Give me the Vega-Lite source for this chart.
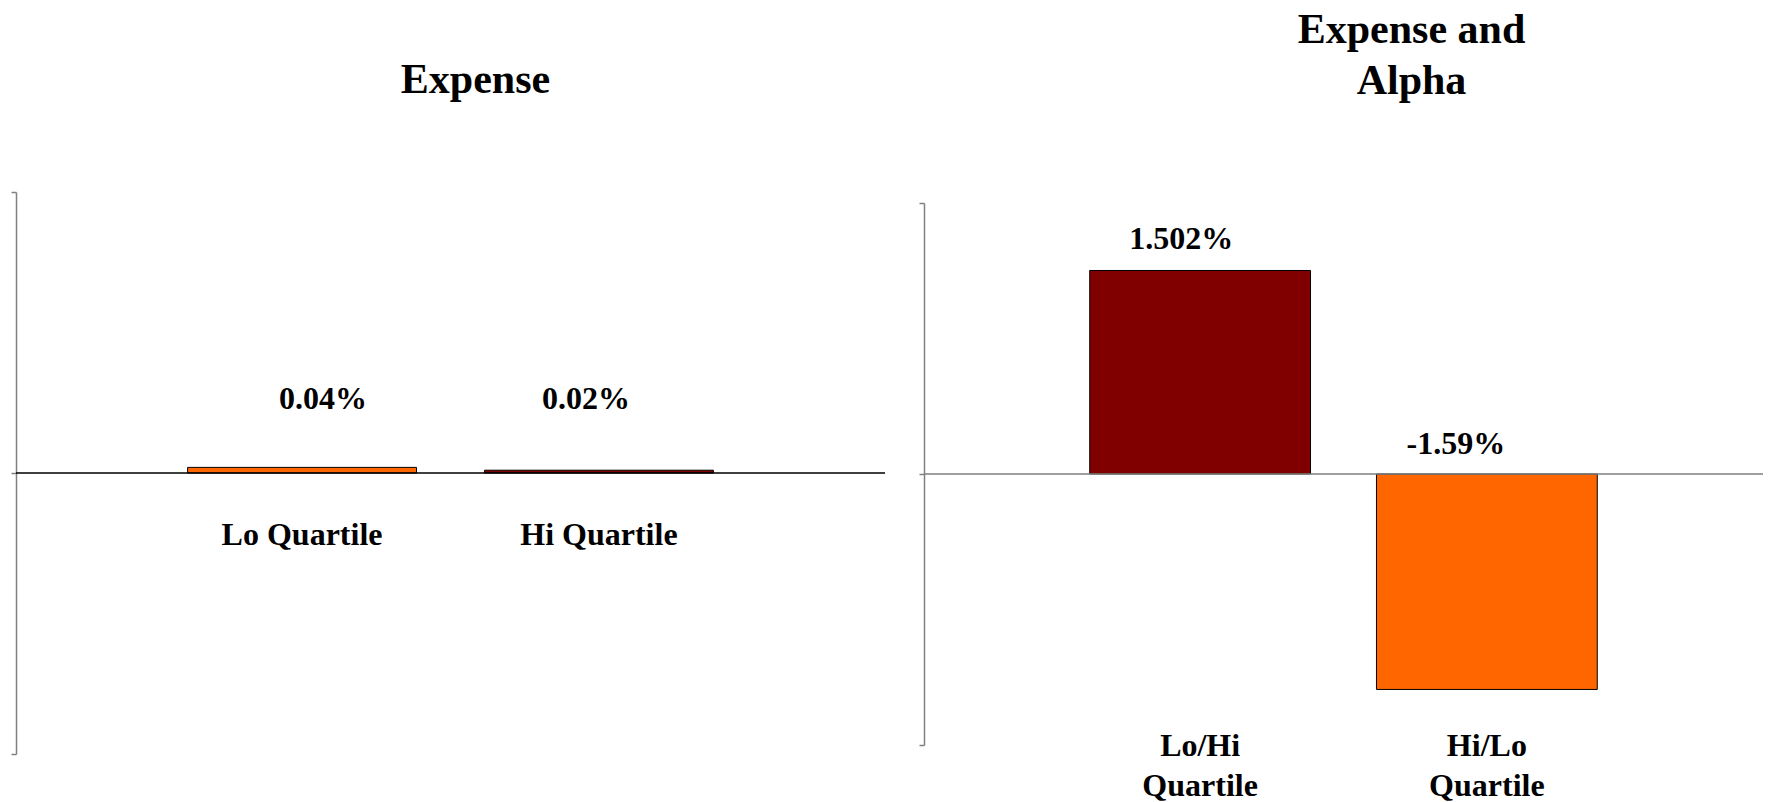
{
  "$schema": "https://vega.github.io/schema/vega-lite/v6.json",
  "background": "white",
  "padding": {"left": 10, "top": 9, "right": 5, "bottom": 0},
  "config": {
    "view": {"stroke": null},
    "font": "Liberation Serif",
    "title": {"font": "Liberation Serif", "fontSize": 42, "fontWeight": "bold", "color": "black"},
    "axis": {"labelFont": "Liberation Serif", "labelFontSize": 32, "labelFontWeight": "bold", "labelColor": "black"}
  },
  "spacing": 32,
  "resolve": {"scale": {"color": "independent"}},
  "hconcat": [
    {
      "width": 869,
      "height": 562,
      "title": {"text": "Expense", "dx": 25, "offset": 89},
      "data": {"values": [
        {"cat": "Lo Quartile", "value": 0.04, "label": "0.04%"},
        {"cat": "Hi Quartile", "value": 0.02, "label": "0.02%"}
      ]},
      "layer": [
        {
          "mark": {"type": "bar", "stroke": "black", "strokeWidth": 1},
          "encoding": {
            "x": {"field": "cat", "type": "nominal", "sort": null,
              "scale": {"paddingInner": 0.229, "paddingOuter": 0.578},
              "axis": {"title": null, "domain": false, "ticks": false, "labelAngle": 0, "labelPadding": -220, "labelBaseline": "middle", "labelLimit": 400}},
            "y": {"field": "value", "type": "quantitative", "scale": {"domain": [-2, 2], "nice": false, "zero": true},
              "axis": {"values": [-2, 0, 2], "labels": false, "title": null, "grid": false, "domainColor": "#808080", "tickColor": "#808080", "tickSize": 5, "domainWidth": 1.5, "tickWidth": 1.5}},
            "color": {"field": "cat", "type": "nominal", "scale": {"domain": ["Lo Quartile", "Hi Quartile"], "range": ["#FF6600", "#800000"]}, "legend": null}
          }
        },
        {
          "mark": {"type": "rule", "color": "black", "strokeWidth": 1.2},
          "encoding": {"y": {"datum": 0}}
        },
        {
          "transform": [{"filter": "datum.cat == 'Lo Quartile'"}],
          "mark": {"type": "text", "font": "Liberation Serif", "fontSize": 32, "fontWeight": "bold", "color": "black", "dx": 21, "dy": -68, "baseline": "middle"},
          "encoding": {"x": {"field": "cat", "type": "nominal", "sort": null}, "y": {"field": "value", "type": "quantitative"}, "text": {"field": "label"}}
        },
        {
          "transform": [{"filter": "datum.cat == 'Hi Quartile'"}],
          "mark": {"type": "text", "font": "Liberation Serif", "fontSize": 32, "fontWeight": "bold", "color": "black", "dx": -13, "dy": -71, "baseline": "middle"},
          "encoding": {"x": {"field": "cat", "type": "nominal", "sort": null}, "y": {"field": "value", "type": "quantitative"}, "text": {"field": "label"}}
        }
      ]
    },
    {
      "width": 839,
      "height": 553,
      "title": {"text": ["Expense and", "Alpha"], "dx": 68, "offset": 89, "lineHeight": 51},
      "data": {"values": [
        {"cat": "Lo/Hi Quartile", "value": 1.502, "label": "1.502%"},
        {"cat": "Hi/Lo Quartile", "value": -1.59, "label": "-1.59%"}
      ]},
      "layer": [
        {
          "mark": {"type": "bar", "stroke": "black", "strokeWidth": 1},
          "encoding": {
            "x": {"field": "cat", "type": "nominal", "sort": null,
              "scale": {"paddingInner": 0.23, "paddingOuter": 0.578},
              "axis": {"title": null, "domain": false, "ticks": false, "labelAngle": 0, "labelPadding": -15, "labelBaseline": "top", "labelLineHeight": 40, "labelLimit": 400, "labelExpr": "split(datum.label, ' ')"}},
            "y": {"field": "value", "type": "quantitative", "scale": {"domain": [-2, 2], "range": [553, 11], "nice": false, "zero": true},
              "axis": {"values": [-2, 0, 2], "labels": false, "title": null, "grid": false, "domainColor": "#808080", "tickColor": "#808080", "tickSize": 5, "domainWidth": 1.5, "tickWidth": 1.5}},
            "color": {"field": "cat", "type": "nominal", "scale": {"domain": ["Lo/Hi Quartile", "Hi/Lo Quartile"], "range": ["#800000", "#FF6600"]}, "legend": null}
          }
        },
        {
          "mark": {"type": "rule", "color": "#808080", "strokeWidth": 1.2},
          "encoding": {"y": {"datum": 0}}
        },
        {
          "transform": [{"filter": "datum.value > 0"}],
          "mark": {"type": "text", "font": "Liberation Serif", "fontSize": 32, "fontWeight": "bold", "color": "black", "dx": -19, "dy": -31, "baseline": "middle"},
          "encoding": {"x": {"field": "cat", "type": "nominal", "sort": null}, "y": {"field": "value", "type": "quantitative"}, "text": {"field": "label"}}
        },
        {
          "transform": [{"filter": "datum.value < 0"}],
          "mark": {"type": "text", "font": "Liberation Serif", "fontSize": 32, "fontWeight": "bold", "color": "black", "dx": -31, "dy": -30, "baseline": "middle"},
          "encoding": {"x": {"field": "cat", "type": "nominal", "sort": null}, "y": {"datum": 0}, "text": {"field": "label"}}
        }
      ]
    }
  ]
}
